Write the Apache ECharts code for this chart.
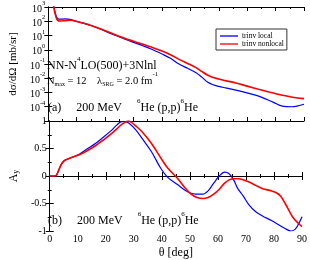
<!DOCTYPE html>
<html><head><meta charset="utf-8">
<script src="https://cdn.jsdelivr.net/npm/echarts@6/dist/echarts.min.js"></script>
<style>html,body{margin:0;padding:0;background:#fff}#c{width:310px;height:260px}</style>
</head><body><div id="c"></div>
<script>
// ---- data ----
const seriesNames = ['trinv local', 'trinv nonlocal'];
const xTicks = [0, 10, 20, 30, 40, 50, 60, 70, 80, 90];
const ayTicks = [-1, -0.5, 0, 0.5, 1];

const thetaXsLocal = [1, 2, 2.5, 3, 3.5, 4, 6, 8, 10, 12, 15, 18, 21, 24, 27, 30, 33, 36, 40, 43, 46, 49, 52, 54, 56, 58, 60, 62.4, 67.9, 73.5, 79.1, 82.4, 85.7, 90];
const xsLocal = [2e4, 1000, 350, 180, 145, 140, 145, 130, 98, 76, 50, 30, 16.6, 9.5, 5.5, 3.3, 2.0, 1.17, 0.5, 0.25, 0.1, 0.05, 0.024, 0.012, 0.0055, 0.0035, 0.0027, 0.0021, 0.0012, 0.0006, 0.00021, 0.00011, 0.0001, 0.00015];

const thetaXsNonlocal = [1, 2, 2.5, 3, 3.5, 4, 6, 8, 10, 12, 15, 18, 21, 24, 27, 30, 33, 36, 40, 43, 46, 49, 52, 54, 56, 58, 60, 63, 66, 70, 74, 78, 82, 86, 90];
const xsNonlocal = [2e4, 800, 280, 140, 108, 104, 110, 118, 96, 76, 51, 31.6, 18, 10.5, 6.2, 4.0, 2.5, 1.6, 0.83, 0.45, 0.21, 0.11, 0.056, 0.03, 0.017, 0.0115, 0.0089, 0.0063, 0.0047, 0.0028, 0.0017, 0.00105, 0.00066, 0.00047, 0.00037];

const thetaAyLocal = [0, 1.5, 2.3, 3, 4, 5, 6, 8, 10.7, 13, 16.3, 19, 21.8, 24, 25.7, 27, 28.5, 30.7, 33, 36.3, 39.6, 42, 45.7, 48, 50.2, 52, 54.6, 56.5, 58.5, 60.5, 62.4, 64, 65.7, 67, 69, 71, 73.5, 76, 79.1, 82.4, 84.5, 86, 87.5, 88.7, 90];
const ayLocal = [0, 0, 0.01, 0.08, 0.2, 0.27, 0.3, 0.34, 0.40, 0.48, 0.59, 0.70, 0.82, 0.93, 0.99, 0.99, 0.95, 0.84, 0.68, 0.44, 0.14, -0.02, -0.16, -0.25, -0.31, -0.33, -0.33, -0.27, -0.13, 0.0, 0.07, 0.04, -0.08, -0.22, -0.36, -0.52, -0.65, -0.73, -0.81, -0.91, -0.97, -1.0, -0.97, -0.88, -0.74];

const thetaAyNonlocal = [0, 1.5, 2.3, 3, 4, 5, 6, 8, 10.7, 13, 16.3, 19, 21.8, 24, 25.7, 27, 28, 29, 30.7, 33, 36.3, 39.6, 42, 45.7, 48, 50.2, 52.5, 54.6, 56.5, 58.5, 60.5, 62.4, 64, 65.7, 67.5, 69, 71.5, 73.5, 76, 79, 81, 82.4, 84, 85.7, 87, 88.7, 90];
const ayNonlocal = [0, 0, 0.01, 0.08, 0.2, 0.27, 0.3, 0.34, 0.39, 0.45, 0.55, 0.65, 0.76, 0.86, 0.94, 0.98, 1.0, 0.98, 0.91, 0.80, 0.59, 0.33, 0.15, -0.05, -0.2, -0.32, -0.39, -0.41, -0.39, -0.33, -0.24, -0.13, -0.07, -0.05, -0.05, -0.07, -0.12, -0.17, -0.23, -0.27, -0.31, -0.37, -0.5, -0.66, -0.77, -0.86, -0.92];

// ---- chart ----
const FONT = '"Liberation Serif", "DejaVu Serif", serif';
const BLUE = '#0000ff', RED = '#ff0000';
const pairs = (xs, ys) => xs.map((x, i) => [x, ys[i]]);

const axisLine = { show: true, lineStyle: { color: '#000', width: 1 } };
const majorTick = { show: true, inside: true, length: 4, lineStyle: { color: '#000', width: 1 } };
const minorTickX = { show: true, splitNumber: 2, length: 2, lineStyle: { color: '#000', width: 1 } };

function xAx(grid, pos, labels) {
  return {
    type: 'value', gridIndex: grid, position: pos, min: 0, max: 90, interval: 10,
    axisLine, axisTick: majorTick, minorTick: minorTickX, splitLine: { show: false },
    axisLabel: labels ? { show: true, color: '#000', fontFamily: FONT, fontSize: 10, margin: 3, showMinLabel: true, showMaxLabel: true } : { show: false },
    name: labels ? 'θ [deg]' : '', nameLocation: 'middle', nameGap: 16,
    nameTextStyle: { color: '#000', fontFamily: FONT, fontSize: 12 }
  };
}
function xsLabel(v) {
  const e = Math.round(Math.log10(v));
  if (e < -4) return '';
  return '{b|10}{s|' + e + '}';
}
function yLog(pos, labels) {
  return {
    type: 'log', logBase: 10, gridIndex: 0, position: pos, min: 1e-5, max: 1e3, splitNumber: 8,
    axisLine, axisTick: majorTick, minorTick: { show: false }, splitLine: { show: false },
    axisLabel: labels ? {
      show: true, margin: 3, formatter: xsLabel, showMinLabel: true, showMaxLabel: true,
      rich: { b: { fontFamily: FONT, fontSize: 10, color: '#000', verticalAlign: 'bottom', lineHeight: 14 },
              s: { fontFamily: FONT, fontSize: 6.5, color: '#000', verticalAlign: 'top', lineHeight: 14 } }
    } : { show: false },
    name: labels ? 'dσ/dΩ [mb/sr]' : '', nameLocation: 'middle', nameGap: 22, nameRotate: 90,
    nameTextStyle: { color: '#000', fontFamily: FONT, fontSize: 11 }
  };
}
function yAy(pos, labels) {
  return {
    type: 'value', gridIndex: 1, position: pos, min: -1, max: 1, interval: 0.5,
    axisLine, axisTick: majorTick, minorTick: { show: true, splitNumber: 2, length: 2, lineStyle: { color: '#000' } },
    splitLine: { show: false },
    axisLabel: labels ? { show: true, color: '#000', fontFamily: FONT, fontSize: 10, margin: 3, showMinLabel: true, showMaxLabel: true,
      formatter: v => (ayTicks.indexOf(v) >= 0 ? String(v) : '') } : { show: false },
    name: labels ? '{a|A}{s|y}' : '', nameLocation: 'middle', nameGap: 27, nameRotate: 90,
    nameTextStyle: { rich: { a: { fontFamily: FONT, fontSize: 12, color: '#000' }, s: { fontFamily: FONT, fontSize: 8, color: '#000', verticalAlign: 'bottom', padding: [4, 0, 0, 0] } } }
  };
}

const base = { fontFamily: FONT, color: '#000', fontWeight: 'normal' };
const rich = {
  a: Object.assign({ fontSize: 12, lineHeight: 16, verticalAlign: 'bottom' }, base),
  m: Object.assign({ fontSize: 10.5, lineHeight: 16, verticalAlign: 'bottom' }, base),
  s: Object.assign({ fontSize: 7, lineHeight: 16, verticalAlign: 'top' }, base),
  u: Object.assign({ fontSize: 6, lineHeight: 12, verticalAlign: 'bottom' }, base)
};
const tStyle = { fontWeight: 'normal', fontFamily: FONT, rich };

const chart = echarts.init(document.getElementById('c'), null, { renderer: 'canvas' });
chart.setOption({
  animation: false,
  backgroundColor: '#fff',
  grid: [
    { left: 34.5, right: 6, top: 5, height: 116, containLabel: false },
    { left: 34.5, right: 6, top: 121, height: 116, containLabel: false }
  ],
  xAxis: [xAx(0, 'bottom', false), xAx(0, 'top', false), xAx(1, 'bottom', true), xAx(1, 'top', false)],
  yAxis: [yLog('left', true), yLog('right', false), yAy('left', true), yAy('right', false)],
  title: [
    { text: '{a|NN-N}{s|4}{a|LO(500)+3Nlnl}', left: 47, top: 56, padding: 0, textStyle: tStyle },
    { text: '{m|N}{u|max}{m| = 12    λ}{u|SRG}{m| = 2.0 fm}{s|-1}', left: 47, top: 71, padding: 0, textStyle: tStyle },
    { text: '{a|(a)     200 MeV     }{s|6}{a|He (p,p)}{s|6}{a|He}', left: 48, top: 98, padding: 0, textStyle: tStyle },
    { text: '{a|(b)     200 MeV     }{s|6}{a|He (p,p)}{s|6}{a|He}', left: 48, top: 211, padding: 0, textStyle: tStyle }
  ],
  legend: {
    left: 216, top: 29, orient: 'vertical', itemGap: 0, padding: [3, 3, 2, 4],
    borderColor: '#333', borderWidth: 1, backgroundColor: '#fff',
    icon: 'rect', itemWidth: 18, itemHeight: 1.3, selectedMode: false,
    textStyle: { fontFamily: FONT, fontSize: 7.5, color: '#000', padding: [0, 0, 0, -1] },
    data: seriesNames
  },
  series: [
    { name: seriesNames[0], type: 'line', xAxisIndex: 0, yAxisIndex: 0, data: pairs(thetaXsLocal, xsLocal), showSymbol: false, symbol: 'none', smooth: 0.35, lineStyle: { color: BLUE, width: 1.2 }, itemStyle: { color: BLUE }, clip: true },
    { name: seriesNames[1], type: 'line', xAxisIndex: 0, yAxisIndex: 0, data: pairs(thetaXsNonlocal, xsNonlocal), showSymbol: false, symbol: 'none', smooth: 0.35, lineStyle: { color: RED, width: 1.6 }, itemStyle: { color: RED }, clip: true },
    { name: seriesNames[0], type: 'line', xAxisIndex: 2, yAxisIndex: 2, data: pairs(thetaAyLocal, ayLocal), showSymbol: false, symbol: 'none', smooth: 0.35, lineStyle: { color: BLUE, width: 1.2 }, itemStyle: { color: BLUE }, clip: true },
    { name: seriesNames[1], type: 'line', xAxisIndex: 2, yAxisIndex: 2, data: pairs(thetaAyNonlocal, ayNonlocal), showSymbol: false, symbol: 'none', smooth: 0.35, lineStyle: { color: RED, width: 1.6 }, itemStyle: { color: RED }, clip: true }
  ]
});
</script></body></html>
